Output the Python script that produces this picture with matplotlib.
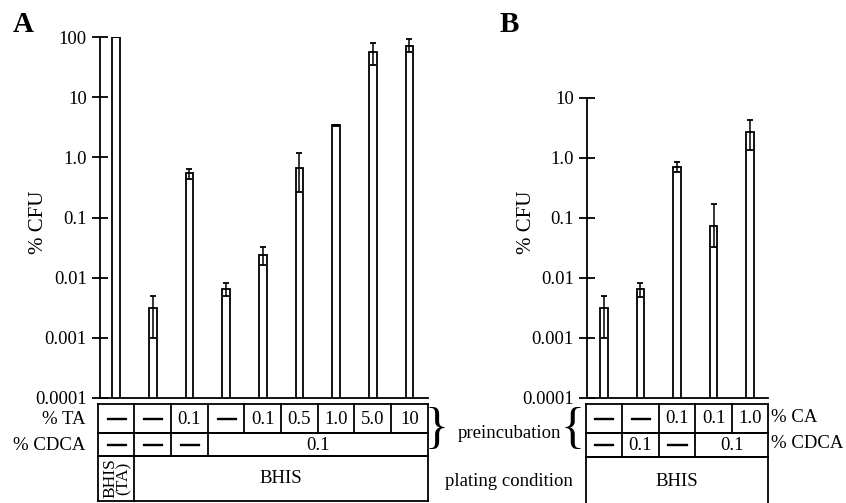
import matplotlib
matplotlib.use("Agg")
import matplotlib.pyplot as plt
import matplotlib.patheffects as pe
import numpy as np

plt.rcParams['font.family'] = ['Liberation Serif', 'DejaVu Serif']

# ---- data ----
vals_a = [100, 0.0031, 0.55, 0.0065, 0.024, 0.67, 3.4, 56, 72]
err_lo_a = [0, 0.0021, 0.12, 0.0016, 0.0076, 0.40, 0.08, 22, 15]
err_hi_a = [0, 0.0019, 0.10, 0.0018, 0.0080, 0.53, 0.08, 25, 20]

vals_b = [0.0031, 0.0065, 0.70, 0.074, 2.7]
err_lo_b = [0.0021, 0.0016, 0.12, 0.041, 1.35]
err_hi_b = [0.0019, 0.0018, 0.15, 0.096, 1.6]

ytick_vals = [1e-4, 1e-3, 1e-2, 1e-1, 1, 10, 100]
ytick_labels = ["0.0001", "0.001", "0.01", "0.1", "1.0", "10", "100"]

# table rows: (text, column span)
ta_row = [(t, 1) for t in ["—", "—", "0.1", "—", "0.1", "0.5", "1.0", "5.0", "10"]]
cdca_row_a = [("—", 1), ("—", 1), ("—", 1), ("0.1", 6)]
plating_a = [("BHIS\n(TA)", 1), ("BHIS", 8)]

ca_row = [(t, 1) for t in ["—", "—", "0.1", "0.1", "1.0"]]
cdca_row_b = [("—", 1), ("0.1", 1), ("—", 1), ("0.1", 2)]
plating_b = [("BHIS", 5)]

W, H = 846, 503
fig = plt.figure(figsize=(W / 100, H / 100), dpi=100)


def px_axes(x0, x1, y0, y1):
    # pixel box (top-left origin) -> figure axes
    return fig.add_axes([x0 / W, 1 - y1 / H, (x1 - x0) / W, (y1 - y0) / H])


LW = 1.3
FS = 13.5
thick = [pe.withStroke(linewidth=1.0, foreground='black')]


def bar_panel(ax, vals, lo, hi, top, ticks_n):
    x = np.arange(len(vals))
    ax.set_yscale('log')
    ax.bar(x, vals, width=0.21, bottom=1e-5, color='white', edgecolor='black',
           linewidth=LW, zorder=2)
    ax.errorbar(x, vals, yerr=[lo, hi], fmt='none', ecolor='black',
                elinewidth=1.1, capsize=2.2, capthick=1.3, zorder=3)
    ax.set_ylim(1e-4, top)
    ax.set_yticks(ytick_vals[:ticks_n])
    ax.set_yticklabels(ytick_labels[:ticks_n])
    ax.yaxis.set_minor_locator(matplotlib.ticker.NullLocator())
    ax.set_xticks([])
    for s in ['top', 'right']:
        ax.spines[s].set_visible(False)
    for s in ['left', 'bottom']:
        ax.spines[s].set_linewidth(LW)
    ax.tick_params(axis='y', direction='inout', length=11, width=1.3,
                   labelsize=FS, pad=4)
    ax.patch.set_alpha(0)


def table(ax, rows, bounds, ncol):
    ax.set_xlim(-0.5, ncol - 0.5)
    ax.set_ylim(H, 404)
    ax.axis('off')
    for r, row in enumerate(rows):
        y0, y1 = bounds[r], bounds[r + 1]
        ax.plot([-0.5, ncol - 0.5], [y0, y0], color='black', lw=LW, clip_on=False)
        ax.plot([-0.5, ncol - 0.5], [y1, y1], color='black', lw=LW, clip_on=False)
        c = -0.5
        ax.plot([c, c], [y0, y1], color='black', lw=LW, clip_on=False)
        for text, span in row:
            mid = c + span / 2
            c += span
            ax.plot([c, c], [y0, y1], color='black', lw=LW, clip_on=False)
            if "\n" in text:
                ax.text(mid + 0.02, (y0 + y1) / 2, text, rotation=90, ha='center',
                        va='center', fontsize=12.5, linespacing=0.78)
            elif text == "—":
                ax.text(mid, (y0 + y1) / 2, text, ha='center', va='center',
                        fontsize=FS, fontweight='bold', path_effects=thick)
            else:
                ax.text(mid, (y0 + y1) / 2 + 0.5, text, ha='center',
                        va='center', fontsize=FS)


# ---- panel A ----
col_a = (427.7 - 97.7) / 9
ax_a = px_axes(100, 428, 37, 398)
bar_panel(ax_a, vals_a, err_lo_a, err_hi_a, 100, 7)
ax_a.set_xlim(-0.5 + (100 - 97.7) / col_a, -0.5 + (428 - 97.7) / col_a)
ax_a.set_ylabel("% CFU", fontsize=15)
ax_a.yaxis.set_label_coords((48 - 100) / 328, (398 - 222) / 361)

tab_a = px_axes(97.7, 427.7, 404, H)
table(tab_a, [ta_row, cdca_row_a, plating_a], [404, 433.3, 456, 501], 9)

# ---- panel B ----
col_b = (768.3 - 585.7) / 5
ax_b = px_axes(587, 768, 98, 398)
bar_panel(ax_b, vals_b, err_lo_b, err_hi_b, 10, 6)
ax_b.set_xlim(-0.5 + (587 - 585.7) / col_b, -0.5 + (768 - 585.7) / col_b)
ax_b.set_ylabel("% CFU", fontsize=15)
ax_b.yaxis.set_label_coords((536 - 587) / 181, (398 - 222) / 300)

tab_b = px_axes(585.7, 768.3, 404, H)
table(tab_b, [ca_row, cdca_row_b, plating_b], [404, 432.7, 456.7, 506], 5)

# ---- side labels ----
def fig_text(x, y, s, **kw):
    fig.text(x / W, 1 - y / H, s, **kw)

fig_text(85, 419, "% TA", ha='right', va='center', fontsize=FS)
fig_text(85, 445, "% CDCA", ha='right', va='center', fontsize=FS)
fig_text(771, 418, "% CA", ha='left', va='center', fontsize=FS)
fig_text(771, 444, "% CDCA", ha='left', va='center', fontsize=FS)
fig_text(436, 430, "}", ha='center', va='center', fontsize=36)
fig_text(572, 430, "{", ha='center', va='center', fontsize=36)
fig_text(509, 434, "preincubation", ha='center', va='center', fontsize=FS)
fig_text(509, 481, "plating condition", ha='center', va='center', fontsize=FS)

fig_text(13, 25, "A", ha='left', va='center', fontsize=21, fontweight='bold')
fig_text(500, 25, "B", ha='left', va='center', fontsize=21, fontweight='bold')

fig.savefig("out.png", dpi=100)
